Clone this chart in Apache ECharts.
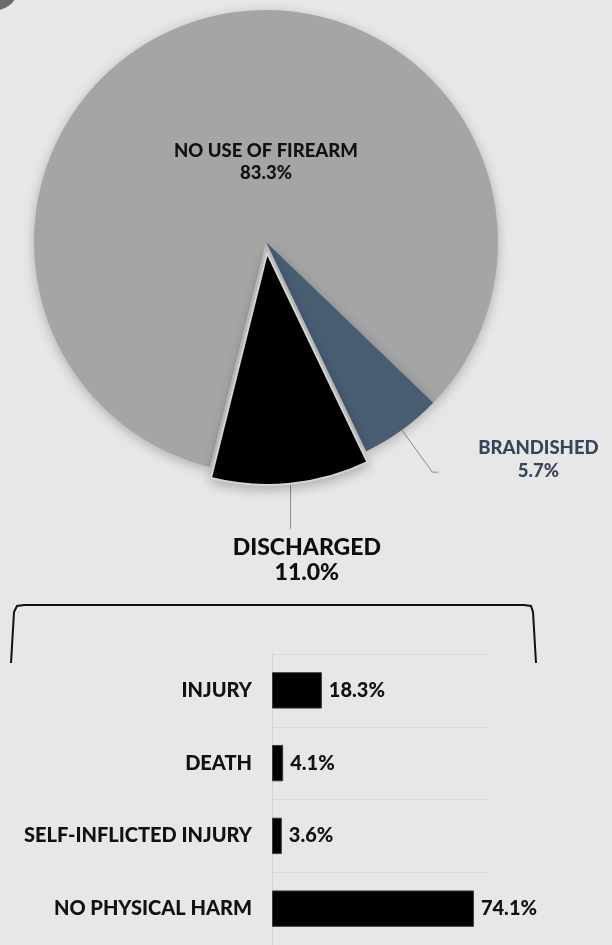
<!DOCTYPE html>
<html>
<head>
<meta charset="utf-8">
<title>Use of firearm</title>
<script src="https://cdn.jsdelivr.net/npm/echarts@6.0.0/dist/echarts.min.js"></script>
<style>
  html, body { margin: 0; padding: 0; background: #e7e7e7; }
  #chart { width: 612px; height: 945px; }
</style>
</head>
<body>
<div id="chart"></div>
<script>
// pie: how the firearm was used
var useNames = ['NO USE OF FIREARM', 'BRANDISHED', 'DISCHARGED'];
var useValues = [83.3, 5.7, 11.0];
var useColors = ['#a5a5a5', '#485c72', '#000000'];

// bars: outcome when discharged
var harmNames = ['INJURY', 'DEATH', 'SELF-INFLICTED INJURY', 'NO PHYSICAL HARM'];
var harmValues = [18.3, 4.1, 3.6, 74.1];

var CX = 266, CY = 242, R = 232;
var FONT = 'Lato, "Open Sans", sans-serif';
var WEIGHT = 900;

var chart = echarts.init(document.getElementById('chart'));

var pieData = useNames.map(function (n, i) {
  var d = { name: n, value: useValues[i], itemStyle: { color: useColors[i] } };
  if (i === 0) {
    d.label = { position: 'inside', fontSize: 18.5, lineHeight: 22, color: '#111' };
    d.labelLine = { show: false };
  } else if (i === 1) {
    d.label = { position: 'outside', fontSize: 18.5, lineHeight: 23, color: '#34455c' };
  } else {
    d.selected = true;
    d.itemStyle.borderColor = '#d4d4d4';
    d.itemStyle.borderWidth = 2;
    d.label = { position: 'outside', fontSize: 23, lineHeight: 25, color: '#0d0d0d' };
  }
  return d;
});

var option = {
  backgroundColor: '#e7e7e7',
  animation: false,
  textStyle: { fontFamily: FONT },
  graphic: [
    { type: 'circle', shape: { cx: -4, cy: -12, r: 22 }, style: { fill: '#6a6a6a' } },
    {
      type: 'polyline',
      shape: { points: [[11, 663], [14, 612], [17, 606], [24, 605], [524, 605], [531, 606], [533, 612], [536, 663]] },
      style: { stroke: '#111', lineWidth: 2, fill: null }
    }
  ],
  grid: { left: 272, top: 654, width: 218, height: 298 },
  xAxis: { type: 'value', min: 0, max: 80, show: false },
  yAxis: {
    type: 'category',
    inverse: true,
    data: harmNames,
    axisLine: { show: true, lineStyle: { color: '#d2d2d2', width: 1 } },
    axisTick: { show: false },
    splitLine: { show: true, lineStyle: { color: '#dadada', width: 1 } },
    axisLabel: { margin: 20, fontSize: 20, fontWeight: WEIGHT, color: '#111', fontFamily: FONT }
  },
  series: [{
    type: 'pie',
    center: [CX, CY],
    radius: R,
    startAngle: 256,
    clockwise: true,
    selectedMode: 'single',
    selectedOffset: 11,
    avoidLabelOverlap: false,
    itemStyle: { shadowBlur: 12, shadowColor: 'rgba(0,0,0,0.25)', shadowOffsetY: 3 },
    emphasis: { disabled: true },
    label: {
      show: true,
      fontFamily: FONT,
      fontWeight: WEIGHT,
      formatter: function (p) { return p.name + '\n' + p.value.toFixed(1) + '%'; }
    },
    labelLine: { show: true, length: 52, length2: 6, lineStyle: { color: '#8a8a8a', width: 1 } },
    labelLayout: function (p) {
      if (p.dataIndex === 0) {
        return { x: CX, y: CY - 80, align: 'center', verticalAlign: 'middle' };
      }
      var pts = p.labelLinePoints;
      if (!pts) return {};
      if (p.dataIndex === 1) {
        var e = pts[pts.length - 1];
        return { x: e[0] + 100, y: e[1] - 13, align: 'center', verticalAlign: 'middle', labelLinePoints: pts };
      }
      var s = pts[0];
      return {
        x: s[0], y: s[1] + 51, align: 'center', verticalAlign: 'top',
        labelLinePoints: [[s[0], s[1]], [s[0], s[1] + 45]]
      };
    },
    data: pieData
  }, {
    type: 'bar',
    barWidth: '50%',
    data: harmValues,
    itemStyle: { color: '#000', borderColor: '#3a3a3a', borderWidth: 1 },
    label: {
      show: true,
      position: 'right',
      distance: 7,
      fontFamily: FONT,
      fontSize: 20,
      fontWeight: WEIGHT,
      color: '#111',
      formatter: function (p) { return p.value.toFixed(1) + '%'; }
    }
  }]
};

chart.setOption(option);
</script>
</body>
</html>
